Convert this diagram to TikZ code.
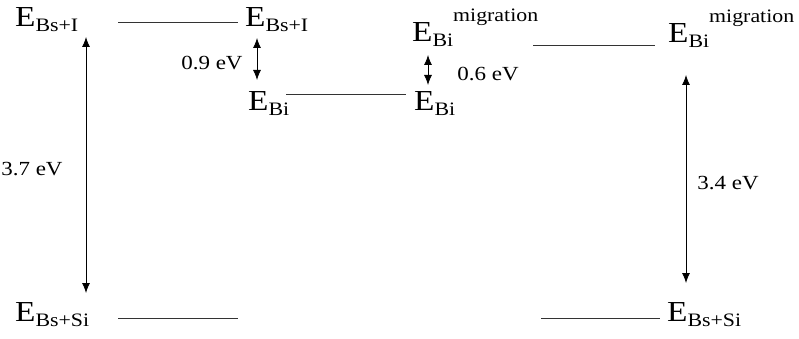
\documentclass[tikz,border=0pt]{standalone}
\usepackage{fontspec}
\setmainfont{Liberation Serif}[FakeStretch=1.15]
\usepackage{xcolor}
\usepackage{tikz}
\usetikzlibrary{positioning,arrows.meta}

\newcommand{\subfont}{\fontsize{19}{22}\selectfont}
\newcommand{\lvl}[2]{E\raisebox{-5pt}{\subfont #1}\raisebox{20pt}{\subfont #2}}

\begin{document}
\begin{tikzpicture}[
    x=1pt, y=-1pt,
    level/.style={
        inner sep=0pt, anchor=base west, font=\fontsize{29}{32}\selectfont
    },
    value/.style={inner sep=0pt, font=\fontsize{20}{23}\selectfont, yshift=-4pt},
    line/.style={draw, line width=0.8pt, color=black!80},
    diff/.style={draw, line width=0.8pt, {Latex[length=10pt,width=8pt]}-{Latex[length=10pt,width=8pt]}}
]
    \useasboundingbox (0,0) rectangle (799,339);
    % energy levels
    \node [level] (bsi1) at (15,27) {\lvl{Bs+I}{}};
    \node [level] (bsi2) at (245,27) {\lvl{Bs+I}{}};
    \node [level] (bi1) at (248,111) {\lvl{Bi}{}};
    \node [level] (bi2) at (414,111) {\lvl{Bi}{}};
    \node [level] (mig1) at (412,42) {\lvl{Bi}{migration}};
    \node [level] (mig2) at (668,43) {\lvl{Bi}{migration}};
    \node [level] (bssi1) at (15,321) {\lvl{Bs+Si}{}};
    \node [level] (bssi2) at (667,321) {\lvl{Bs+Si}{}};
    \coordinate (end1) at (238,318);
    \coordinate (end2) at (541,318);
    % horizontal lines
    \path [line] ([shift={(103pt,5pt)}]bsi1.base west) -- ([shift={(-7pt,5pt)}]bsi2.base west);
    \path [line] ([shift={(38pt,17pt)}]bi1.base west) -- ([shift={(-8pt,17pt)}]bi2.base west);
    \path [line] ([shift={(121pt,-3pt)}]mig1.base west) -- ([shift={(-13pt,-2pt)}]mig2.base west);
    \path [line] ([shift={(103pt,3pt)}]bssi1.base west) -- (end1);
    \path [line] (end2) -- ([shift={(-7pt,3pt)}]bssi2.base west);
    % energy differences
    \path [diff] ([shift={(71pt,-10pt)}]bsi1.base west) -- ([shift={(71pt,28pt)}]bssi1.base west)
        node [value, midway, left=23pt] (e37) {3.7 eV};
    \path [diff] ([shift={(12pt,-11pt)}]bsi2.base west) -- ([shift={(9pt,31pt)}]bi1.base west)
        node [value, midway, left=14pt] (e09) {0.9 eV};
    \path [diff] ([shift={(16pt,-13pt)}]mig1.base west) -- ([shift={(14pt,26pt)}]bi2.base west)
        node [value, midway, right=29pt] (e06) {0.6 eV};
    \path [diff] ([shift={(18pt,-32pt)}]mig2.base west) -- ([shift={(19pt,38pt)}]bssi2.base west)
        node [value, midway, right=11pt] (e34) {3.4 eV};
\end{tikzpicture}
\end{document}
